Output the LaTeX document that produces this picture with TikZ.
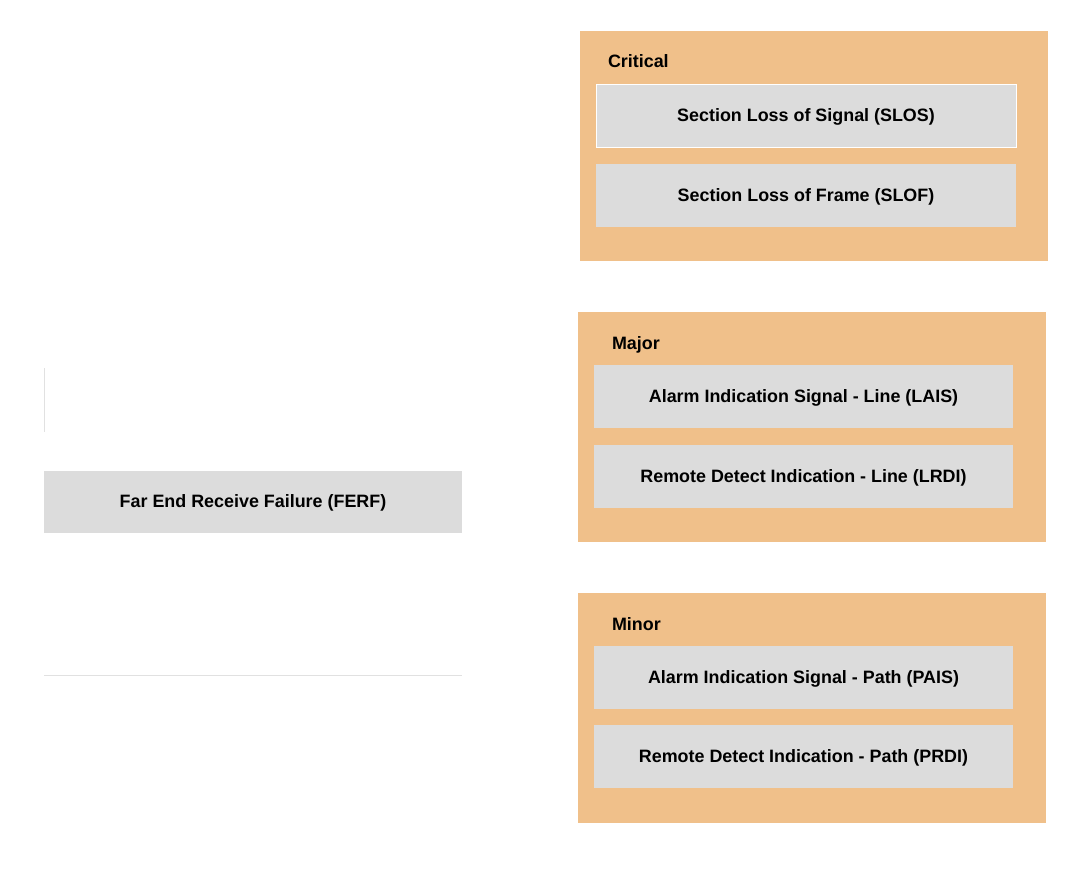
\documentclass[tikz,border=0pt]{standalone}
\usepackage{fontspec}
\setmainfont{Liberation Sans}
\usepackage{tikz}
\usetikzlibrary{positioning}

\definecolor{groupfill}{RGB}{240,192,138}
\definecolor{itemfill}{RGB}{220,220,220}
\definecolor{faint}{RGB}{225,225,225}

\begin{document}
\begin{tikzpicture}[x=1pt, y=-1pt,
      every node/.style = {inner sep=0pt, outer sep=0pt, font=\bfseries\fontsize{17.9}{20}\selectfont},
      group/.style = {shape=rectangle, fill=groupfill, anchor=north west,
        minimum width=468pt, minimum height=230pt},
      item/.style = {shape=rectangle, fill=itemfill, anchor=north west,
        text depth=1pt, minimum width=420pt, minimum height=63pt},
      title/.style = {anchor=base west}]
      \useasboundingbox (0,0) rectangle (1083,888);
      % groups
      \node[group] (critical) at (580,31) {};
      \node[group] (major) at (578,312) {};
      \node[group] (minor) at (578,593) {};
      \node[title] (criticalt) at (608,68) {Critical};
      \node[title] (majort) at (612,349) {Major};
      \node[title] (minort) at (612,630) {Minor};
      % items
      \node[item, draw=white, line width=0.4pt] (slos) at (596,84) {Section Loss of Signal (SLOS)};
      \node[item] (slof) at (596,164) {Section Loss of Frame (SLOF)};
      \node[item, minimum width=419pt] (lais) at (594,365) {Alarm Indication Signal - Line (LAIS)};
      \node[item, minimum width=419pt] (lrdi) at (594,445) {Remote Detect Indication - Line (LRDI)};
      \node[item, minimum width=419pt] (pais) at (594,646) {Alarm Indication Signal - Path (PAIS)};
      \node[item, minimum width=419pt] (prdi) at (594,725) {Remote Detect Indication - Path (PRDI)};
      \node[item, minimum width=418pt, minimum height=62pt] (ferf) at (44,471) {Far End Receive Failure (FERF)};
      % faint rules
      \coordinate (vtop) at (44,368);
      \coordinate (vbot) at (44,432);
      \coordinate (hleft) at (44,675);
      \coordinate (hright) at (462,675);
      \draw[faint, line width=1pt] (vtop) -- (vbot);
      \draw[faint, line width=1pt] (hleft) -- (hright);
\end{tikzpicture}
\end{document}
